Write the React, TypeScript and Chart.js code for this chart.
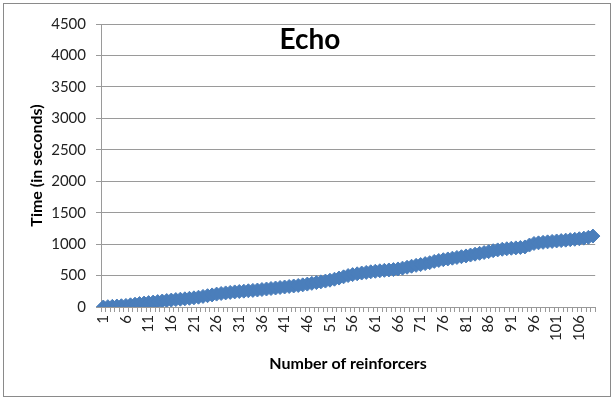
import React, { useEffect, useRef } from "react";
import { Chart, registerables } from "chart.js";

Chart.register(...registerables);

const categories: string[] = [
  "1","2","3","4","5","6","7","8","9","10",
  "11","12","13","14","15","16","17","18","19","20",
  "21","22","23","24","25","26","27","28","29","30",
  "31","32","33","34","35","36","37","38","39","40",
  "41","42","43","44","45","46","47","48","49","50",
  "51","52","53","54","55","56","57","58","59","60",
  "61","62","63","64","65","66","67","68","69","70",
  "71","72","73","74","75","76","77","78","79","80",
  "81","82","83","84","85","86","87","88","89","90",
  "91","92","93","94","95","96","97","98","99","100",
  "101","102","103","104","105","106","107","108","109",
];

const timeSeconds: number[] = [
  0, 5, 10, 15, 20, 25, 35, 45, 55, 62,
  70, 78, 86, 95, 103, 110, 118, 124, 130, 138,
  146, 156, 168, 180, 192, 205, 215, 224, 232, 240,
  246, 252, 258, 264, 270, 278, 286, 294, 302, 310,
  318, 326, 334, 342, 352, 364, 376, 388, 400, 412,
  426, 442, 460, 480, 500, 515, 528, 540, 550, 560,
  568, 576, 583, 589, 595, 605, 618, 632, 648, 662,
  675, 690, 705, 725, 740, 752, 764, 776, 788, 800,
  812, 826, 840, 853, 866, 880, 895, 908, 918, 926,
  934, 940, 946, 955, 985, 1010, 1020, 1028, 1036, 1043,
  1050, 1056, 1063, 1070, 1077, 1085, 1095, 1108, 1128,
];

const xTickLabels: string[] = [
  "1","6","11","16","21","26","31","36","41","46","51",
  "56","61","66","71","76","81","86","91","96","101","106",
];

const yTicks: number[] = [0, 500, 1000, 1500, 2000, 2500, 3000, 3500, 4000, 4500];

const chartTitle = "Echo";
const xTitle = "Number of reinforcers";
const yTitle = "Time (in seconds)";

const frameAndTitle = {
  id: "frameAndTitle",
  afterDraw(chart: any) {
    const ctx = chart.ctx;
    ctx.save();
    ctx.strokeStyle = "#8a8a8a";
    ctx.lineWidth = 1;
    ctx.strokeRect(3.5, 3.5, 607, 393);
    ctx.fillStyle = "#000";
    ctx.font = "bold 28px Lato";
    ctx.textAlign = "center";
    ctx.textBaseline = "alphabetic";
    ctx.fillText(chartTitle, 310, 49);
    ctx.restore();
  },
};

export default function App() {
  const ref = useRef<HTMLCanvasElement>(null);
  useEffect(() => {
    if (!ref.current) return;
    const chart = new Chart(ref.current, {
      type: "line",
      data: {
        labels: categories,
        datasets: [
          {
            data: timeSeconds,
            borderColor: "#4a7ebb",
            backgroundColor: "#4a7ebb",
            borderWidth: 3,
            pointStyle: "rectRot",
            pointRadius: 7,
            pointBorderWidth: 1,
            pointBackgroundColor: "#4a7ebb",
            pointBorderColor: "#4a7ebb",
            tension: 0,
          },
        ],
      },
      options: {
        responsive: false,
        animation: false,
        layout: { padding: { left: 22, right: 16, top: 24, bottom: 22 } },
        plugins: { legend: { display: false }, tooltip: { enabled: false }, title: { display: false } },
        scales: {
          x: {
            type: "category",
            offset: true,
            grid: { offset: true, drawOnChartArea: false, drawTicks: true, tickLength: 5, color: "#999" },
            border: { color: "#999" },
            ticks: {
              autoSkip: false,
              minRotation: 90,
              maxRotation: 90,
              padding: 3,
              color: "#222",
              font: { family: "Lato", size: 15 },
              callback: (_v: any, i: number) => (xTickLabels.includes(categories[i]) ? categories[i] : ""),
            },
            title: {
              display: true,
              text: xTitle,
              color: "#000",
              font: { family: "Lato", size: 16, weight: "bold" },
              padding: { top: 0, bottom: 3 },
            },
            afterFit: (s: any) => { s.height = 69; },
          },
          y: {
            min: 0,
            max: 4500,
            afterBuildTicks: (s: any) => { s.ticks = yTicks.map((v) => ({ value: v })); },
            grid: { color: "#9a9a9a", tickLength: 5 },
            border: { color: "#9a9a9a" },
            ticks: {
              padding: 10,
              color: "#222",
              font: { family: "Lato", size: 15 },
              callback: (v: any) => String(v),
            },
            title: {
              display: true,
              text: yTitle,
              color: "#000",
              font: { family: "Lato", size: 16, weight: "bold" },
              padding: { top: 5, bottom: 0 },
            },
            afterFit: (s: any) => { s.width = 79; },
          },
        },
      },
      plugins: [frameAndTitle],
    } as any);
    return () => chart.destroy();
  }, []);
  return (
    <div style={{ position: "fixed", left: 0, top: 0, width: 614, height: 398, background: "#fff" }}>
      <canvas ref={ref} width={614} height={398} style={{ display: "block" }} />
    </div>
  );
}
